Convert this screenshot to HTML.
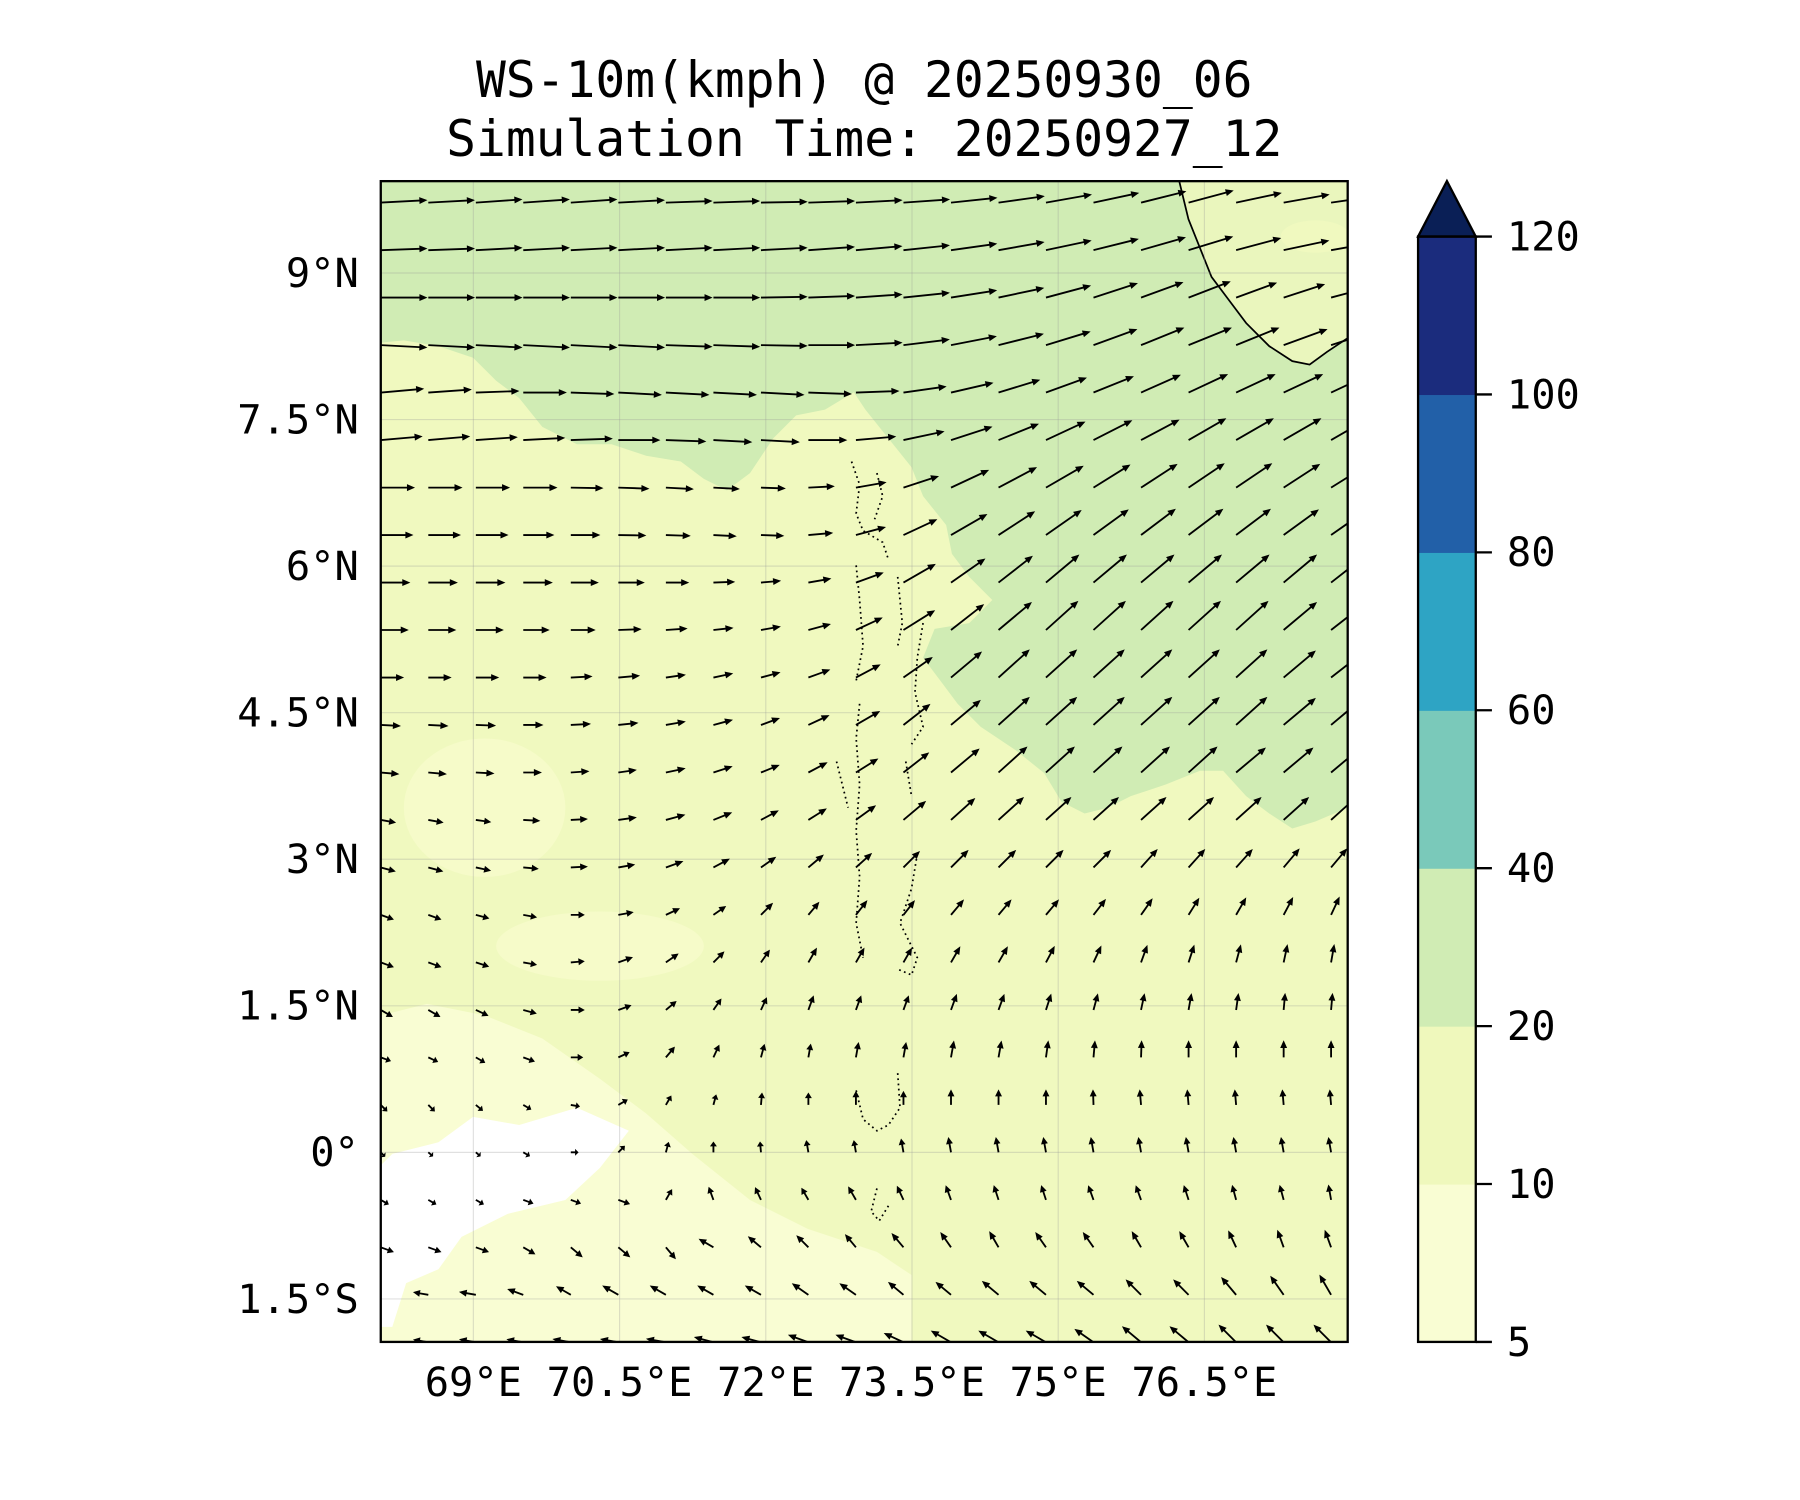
<!DOCTYPE html>
<html><head><meta charset="utf-8"><style>
html,body{margin:0;padding:0;background:#fff}
svg{display:block}
text{font-family:"DejaVu Sans Mono","Liberation Mono",monospace;fill:#000}
</style></head><body>
<svg id="chart" width="1800" height="1500" viewBox="0 0 1560 1300" xmlns="http://www.w3.org/2000/svg">
<text x="749" y="84" font-size="43" text-anchor="middle">WS-10m(kmph) @ 20250930_06</text>
<text x="749" y="135" font-size="43" text-anchor="middle">Simulation Time: 20250927_12</text>
<defs><clipPath id="pc"><rect x="330" y="157" width="838" height="1006"/></clipPath></defs>
<g id="map" clip-path="url(#pc)">
<rect x="330" y="157" width="838" height="1006" fill="#f0f9bf"/>
<polygon fill="#f9fdd3" points="330,880 370,870 420,880 470,900 520,935 560,965 600,1000 650,1040 700,1065 760,1085 790,1105 790,1163 330,1163"/>
<ellipse cx="420" cy="700" rx="70" ry="60" fill="#f6fbc9"/>
<ellipse cx="520" cy="820" rx="90" ry="30" fill="#f6fbc9"/>
<polygon fill="#ffffff" points="340,1000 380,990 410,968 450,975 500,960 545,980 520,1012 490,1040 440,1052 400,1072 380,1100 352,1112 340,1150 330,1150 330,1010"/>
<polygon fill="#d0ecb4" points="330,157 1168,157 1168,700 1140,712 1120,718 1100,705 1080,690 1060,668 1040,668 1010,680 980,690 960,700 940,705 920,695 905,670 880,650 850,630 830,610 815,590 800,570 810,545 840,540 860,520 840,500 825,480 820,455 800,430 790,405 770,380 750,355 740,340 715,355 690,360 670,380 650,410 630,425 610,415 590,400 560,395 530,385 500,385 470,370 450,345 430,330 410,310 380,300 350,295 330,297"/>
<polygon fill="#eaf6bd" points="1022,157 1168,157 1168,293 1150,305 1135,316 1120,313 1100,300 1080,280 1065,260 1050,240 1040,215 1030,190"/>
<ellipse cx="1140" cy="205" rx="30" ry="14" fill="#f0f9bf"/>
<polyline fill="none" stroke="#000" stroke-width="1.5" points="1022,157 1030,190 1040,215 1050,240 1065,260 1080,280 1100,300 1120,313 1135,316 1150,305 1168,293"/>
<g id="grid"></g>
<path fill="none" stroke="#000" stroke-width="1.5" stroke-dasharray="1.5,3" d="M738,400 L745,420 L742,445 L748,460 L765,470 L770,485 M760,410 L765,430 L758,450 M742,490 L745,520 L748,560 L742,590 M778,500 L782,540 L778,560 M800,540 L795,570 L793,600 L800,630 L790,645 M745,610 L742,640 L745,680 L742,720 L745,760 L742,800 L748,830 M725,660 L735,700 M785,660 L790,690 M795,740 L790,770 L780,800 L795,830 L790,845 L778,840 M742,945 L748,970 L760,980 L770,975 L780,960 L778,930 M760,1030 L755,1050 L762,1058 L770,1045"/>
<g id="arrows"></g>
</g>
<rect x="330" y="157" width="838" height="1006" fill="none" stroke="#000" stroke-width="2"/>
<g id="axes"></g>
<g id="cbar"></g>
</svg>
<script>
const lonTicks=[69,70.5,72,73.5,75,76.5];
const lonLabels=["69°E","70.5°E","72°E","73.5°E","75°E","76.5°E"];
const latTicks=[9,7.5,6,4.5,3,1.5,0,-1.5];
const latLabels=["9°N","7.5°N","6°N","4.5°N","3°N","1.5°N","0°","1.5°S"];
const cbarLevels=[5,10,20,40,60,80,100,120];
const cbarColors=["#f9fdd3","#eff8bc","#d0ecb4","#7ac9ba","#2ea4c4","#2260a8","#1b2c7d"];
const gridLon0=68.05, gridLonStep=0.4875, gridLat0=9.72, gridLatStep=-0.486;
const windAngle=[
[3,3,4,4,4,3,2,2,1,2,3,4,6,8,10,12,14,15,12,10,8],
[2,2,3,3,3,3,3,3,3,4,5,6,8,10,12,14,16,17,15,12,10],
[0,0,0,0,0,0,0,0,1,2,4,6,9,12,15,18,20,21,20,18,15],
[-3,-3,-3,-3,-3,-3,-2,-2,-1,0,3,7,11,14,17,20,22,22,22,20,18],
[5,4,2,0,-2,-3,-3,-3,-3,-2,2,8,13,17,20,22,24,25,25,25,25],
[5,5,4,3,2,0,-2,-3,-3,0,5,12,18,22,25,27,28,30,30,30,30],
[0,0,0,0,-1,-2,-3,-3,-2,3,10,18,25,28,30,32,33,34,34,33,32],
[0,0,0,0,0,-1,-2,-3,-2,5,15,25,30,33,35,36,37,37,37,36,35],
[0,0,0,0,0,0,0,2,5,10,20,30,35,38,40,40,40,40,40,40,38],
[0,0,0,0,0,2,4,6,10,15,25,32,38,40,42,42,42,42,42,40,38],
[0,0,0,0,3,5,8,12,15,20,28,35,40,42,42,42,42,42,42,40,38],
[-3,-3,-2,0,3,6,10,15,20,25,30,38,40,42,42,42,42,42,42,40,40],
[-5,-5,-3,0,4,8,12,18,22,28,32,38,40,42,42,42,42,42,40,40,40],
[-10,-10,-8,-3,3,8,15,22,28,32,36,40,42,42,42,42,42,42,42,42,42],
[-15,-15,-12,-5,3,10,20,28,35,40,42,45,45,45,45,45,48,48,48,50,50],
[-20,-20,-15,-10,0,10,25,35,45,50,52,52,50,50,50,52,55,58,60,62,65],
[-20,-20,-18,-10,5,20,35,45,55,60,60,60,60,60,62,65,70,72,75,78,80],
[-30,-30,-25,-15,0,20,40,55,65,70,70,70,70,70,72,75,78,80,82,85,85],
[-20,-25,-30,-20,0,25,50,65,75,80,80,80,80,80,82,85,88,90,90,90,90],
[-45,-45,-40,-30,-10,30,60,75,85,90,90,90,90,90,90,92,95,95,95,95,95],
[-45,-40,-40,-30,0,45,75,90,95,100,100,100,100,100,100,100,100,100,100,100,100],
[-30,-30,-30,-20,-20,-20,60,110,115,120,120,115,110,108,108,110,110,108,105,105,100],
[-20,-20,-20,-30,-40,-40,-50,150,140,135,130,130,125,120,125,125,120,120,115,110,110],
[180,170,170,160,150,150,150,150,150,145,145,140,140,140,140,140,135,135,130,125,120],
[170,170,170,170,170,170,170,165,165,160,160,155,150,150,150,145,140,140,135,135,135]];
const windSpeed=[
[30,30,30,30,30,30,30,30,30,30,30,30,30,30,30,30,30,30,30,30,30],
[30,30,30,30,30,30,30,30,30,30,30,30,30,30,30,30,30,30,30,30,30],
[30,30,30,30,30,30,30,30,30,30,30,30,30,30,30,30,29,29,28,28,28],
[30,30,30,30,30,30,30,30,30,30,30,30,30,30,30,30,30,30,30,30,30],
[28,28,28,28,28,28,28,28,28,28,28,28,28,28,28,28,28,28,28,28,28],
[27,27,27,27,27,27,26,25,25,25,26,27,28,28,28,28,28,28,28,28,28],
[22,22,22,22,21,20,18,17,16,17,20,24,27,28,28,28,28,28,28,28,28],
[21,21,21,20,19,18,16,15,15,16,20,24,27,28,28,28,28,28,28,28,28],
[19,19,19,19,18,17,15,14,13,15,19,24,27,28,28,28,28,28,28,28,28],
[18,18,18,17,16,15,14,13,13,15,19,24,27,28,28,28,28,28,28,28,28],
[15,15,15,15,14,14,13,13,13,15,18,23,26,27,27,27,27,27,27,27,27],
[13,13,13,13,13,13,13,13,13,15,18,22,25,27,27,27,27,27,27,27,27],
[12,12,12,12,12,12,13,13,13,14,17,21,24,25,25,25,25,25,25,25,25],
[10,10,10,11,11,12,13,13,13,14,16,19,21,22,22,22,22,22,22,22,22],
[10,10,10,10,11,11,12,12,12,13,14,15,16,16,16,16,16,16,16,16,16],
[9,9,9,9,9,10,10,10,11,11,12,12,13,13,13,13,13,13,13,13,13],
[9,9,9,9,9,10,10,10,10,11,11,11,12,12,12,12,12,12,12,12,12],
[9,9,9,9,9,9,9,9,9,10,10,10,11,11,11,11,11,11,11,11,11],
[7,7,7,8,8,8,9,9,9,9,10,10,11,11,11,11,11,11,11,11,11],
[6,6,6,6,6,7,7,7,8,8,9,9,10,10,10,10,10,10,10,10,10],
[4,4,4,5,5,6,7,7,7,8,8,9,10,10,10,10,10,10,10,10,10],
[6,6,6,7,7,8,8,9,9,9,10,10,10,10,10,10,10,10,10,10,10],
[9,9,9,9,10,10,10,11,11,11,11,12,12,12,12,12,12,12,12,12,12],
[10,10,11,11,11,12,12,12,12,13,13,13,13,14,14,14,14,14,15,15,15],
[10,10,11,11,12,12,13,13,13,14,14,14,15,15,15,15,16,16,16,16,16]];

const NS="http://www.w3.org/2000/svg";
const X0=330,X1=1168,Y0=157,Y1=1163,LON0=68.05,LON1=77.97,LAT0=-1.94,LAT1=9.94;
function xScale(lon){return X0+(lon-LON0)/(LON1-LON0)*(X1-X0);}
function yScale(lat){return Y0+(LAT1-lat)/(LAT1-LAT0)*(Y1-Y0);}
function mk(tag,attrs,parent){const e=document.createElementNS(NS,tag);for(const k in attrs)e.setAttribute(k,attrs[k]);parent.appendChild(e);return e;}

const grid=document.getElementById('grid');
lonTicks.forEach(v=>{const l=mk('line',{x1:xScale(v),x2:xScale(v),y1:Y0,y2:Y1,stroke:'#999','stroke-opacity':0.3,'stroke-width':1},grid);

});
latTicks.forEach(v=>{const l=mk('line',{x1:X0,x2:X1,y1:yScale(v),y2:yScale(v),stroke:'#999','stroke-opacity':0.3,'stroke-width':1},grid);

});

const axes=document.getElementById('axes');
lonTicks.forEach((v,i)=>{const t=mk('text',{x:xScale(v),y:1210,'font-size':35,'text-anchor':'middle'},axes);t.textContent=lonLabels[i];

});
latTicks.forEach((v,i)=>{const t=mk('text',{x:311,y:yScale(v)+12,'font-size':35,'text-anchor':'end'},axes);t.textContent=latLabels[i];

});

const arrows=document.getElementById('arrows');
const LSCALE=1.35;
windAngle.forEach((row,r)=>{row.forEach((a,c)=>{
 const L=windSpeed[r][c]*LSCALE;
 const x=xScale(gridLon0+c*gridLonStep), y=yScale(gridLat0+r*gridLatStep);
 const hl=Math.min(7,L*0.45), hw=3, sw=0.8;
 const pts=[[0,-sw],[L-hl,-sw],[L-hl,-hw],[L,0],[L-hl,hw],[L-hl,sw],[0,sw]].map(p=>p.join(',')).join(' ');
 const p=mk('polygon',{points:pts,fill:'#000',transform:`translate(${x.toFixed(1)},${y.toFixed(1)}) rotate(${-a})`},arrows);
 
 
});});

const cb=document.getElementById('cbar');
const CX0=1229,CX1=1279,CT=205,CB=1163;
const step=(CB-CT)/(cbarLevels.length-1);
function cy(i){return CB-i*step;}
cbarColors.forEach((col,i)=>{const r=mk('rect',{x:CX0,y:cy(i+1),width:CX1-CX0,height:step+0.5,fill:col},cb);

});
const tri=mk('polygon',{points:`${CX0},${CT} ${(CX0+CX1)/2},157 ${CX1},${CT}`,fill:'#0a1f56',stroke:'#000','stroke-width':2},cb);


const fr=mk('rect',{x:CX0,y:CT,width:CX1-CX0,height:CB-CT,fill:'none',stroke:'#000','stroke-width':2},cb);


cbarLevels.forEach((v,i)=>{const l=mk('line',{x1:CX1,x2:CX1+14,y1:cy(i),y2:cy(i),stroke:'#000','stroke-width':2},cb);


const t=mk('text',{x:1306,y:cy(i)+12,'font-size':35},cb);t.textContent=v;

});
</script>
</body></html>
